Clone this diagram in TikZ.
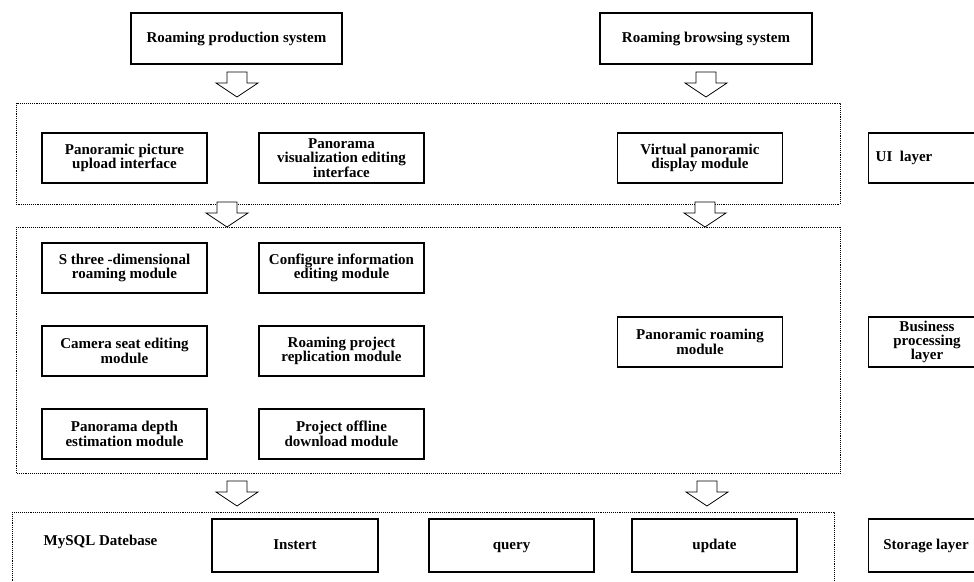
\documentclass[tikz,border=0pt]{standalone}
\usepackage{fontspec}
\setmainfont{Liberation Serif}
\usepackage{tikz}
\usetikzlibrary{positioning}

\begin{document}
\begin{tikzpicture}[
  x=1pt, y=-1pt,
  mod/.style={draw, line width=1.1pt, minimum width=165pt, minimum height=50pt,
              font=\fontsize{15}{13.5}\selectfont\bfseries, align=center, inner sep=1pt},
  sysbox/.style={mod, minimum width=211pt, minimum height=51pt},
  dbop/.style={mod, minimum height=53pt, text height=10pt, text depth=3pt},
  side/.style={draw, line width=1.1pt, minimum width=130pt, anchor=west, inner sep=0pt},
  sidetxt/.style={font=\fontsize{15}{14}\selectfont\bfseries, align=center, inner sep=0pt},
  layer/.style={line width=0.9pt, dash pattern=on 0.8pt off 1.1pt},
  hollow/.pic={\draw[line width=0.8pt, fill=white, line join=miter]
      (-10,0) -- (10,0) -- (10,11) -- (21,11) -- (0,25) -- (-21,11) -- (-10,11) -- cycle;},
]
\useasboundingbox (0,0) rectangle (974,581);
\clip (0,0) rectangle (974,581);

% systems on top
\node[sysbox] (prod) at (236.5,38.5) {Roaming production system};
\node[sysbox, minimum width=212pt] (browse) at (706,38.5) {Roaming browsing system};
\pic at (237,72) {hollow};
\pic at (706,72) {hollow};

% UI layer
\draw[layer] (16,103) rectangle (840,204);
\node[mod] (upload) at (124.5,158) {Panoramic picture\\upload interface};
\node[mod] (visedit) at (341.5,158) {Panorama\\visualization editing\\interface};
\node[mod] (vdisplay) at (700,158) {Virtual panoramic\\display module};
\node[side, minimum height=50pt] (uibox) at (868,158) {};
\node[sidetxt] (uitxt) at (904,158) {UI\ \ layer};
\pic at (227,202) {hollow};
\pic at (705,202) {hollow};

% business processing layer
\draw[layer] (16,227) rectangle (840,473);
\node[mod] (threed) at (124.5,268) {S three -dimensional\\roaming module};
\node[mod] (config) at (341.5,268) {Configure information\\editing module};
\node[mod] (camera) at (124.5,351) {Camera seat editing\\module};
\node[mod] (replic) at (341.5,351) {Roaming project\\replication module};
\node[mod] (depth) at (124.5,434) {Panorama depth\\estimation module};
\node[mod] (offline) at (341.5,434) {Project offline\\download module};
\node[mod] (proam) at (700,342) {Panoramic roaming\\module};
\node[side, minimum height=50pt] (bizbox) at (868,342) {};
\node[sidetxt] (biztxt) at (927,342) {Business\\processing\\layer};
\pic at (237,481) {hollow};
\pic at (707,481) {hollow};

% storage layer
\draw[layer] (12,512) rectangle (834,595);
\node[sidetxt] (mysql) at (100.5,542) {MySQL Datebase};
\node[dbop, minimum width=166pt] (insert) at (295,545.5) {Instert};
\node[dbop] (query) at (511.5,545.5) {query};
\node[dbop] (update) at (714.5,545.5) {update};
\node[side, minimum height=53pt] (storebox) at (868,545.5) {};
\node[sidetxt] (storetxt) at (926,545.5) {Storage layer};
\end{tikzpicture}
\end{document}
